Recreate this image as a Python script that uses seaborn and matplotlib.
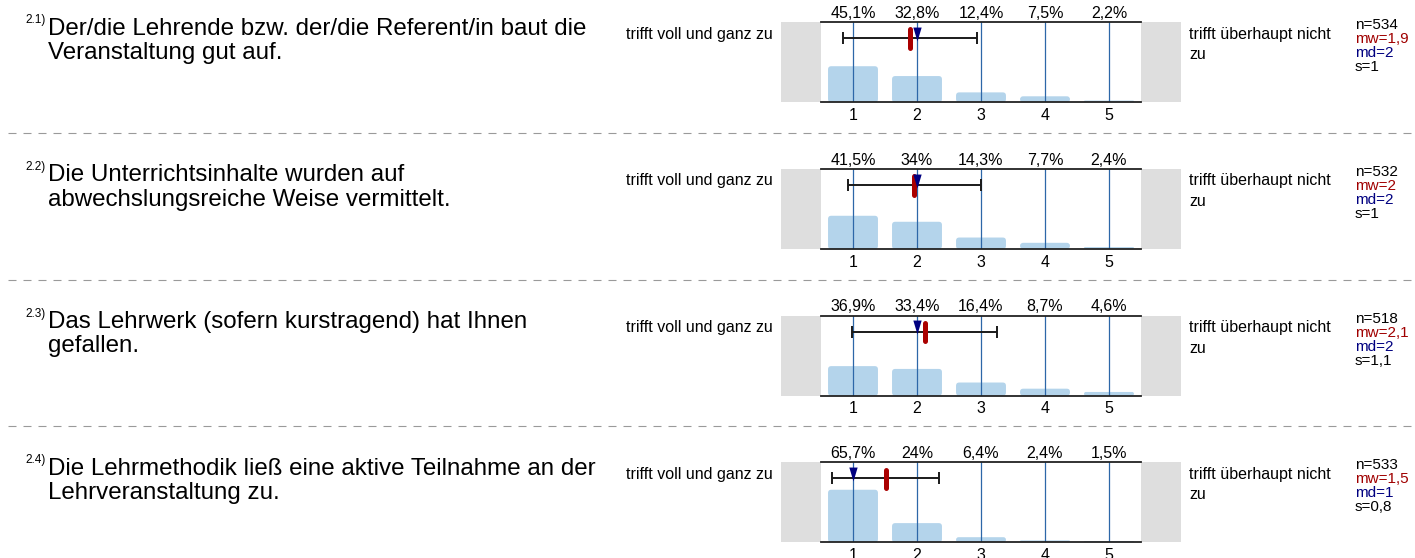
import matplotlib
matplotlib.use("Agg")
import matplotlib.pyplot as plt
import seaborn as sns
from matplotlib.patches import FancyBboxPatch
from matplotlib.lines import Line2D
from matplotlib.path import Path

# data
item_numbers = ["2.1)", "2.2)", "2.3)", "2.4)"]
questions = [
    "Der/die Lehrende bzw. der/die Referent/in baut die\nVeranstaltung gut auf.",
    "Die Unterrichtsinhalte wurden auf\nabwechslungsreiche Weise vermittelt.",
    "Das Lehrwerk (sofern kurstragend) hat Ihnen\ngefallen.",
    "Die Lehrmethodik ließ eine aktive Teilnahme an der\nLehrveranstaltung zu.",
]
scale_points = [1, 2, 3, 4, 5]
pct_2_1 = [45.1, 32.8, 12.4, 7.5, 2.2]
pct_2_2 = [41.5, 34.0, 14.3, 7.7, 2.4]
pct_2_3 = [36.9, 33.4, 16.4, 8.7, 4.6]
pct_2_4 = [65.7, 24.0, 6.4, 2.4, 1.5]
n_answers = [534, 532, 518, 533]
mean_values = [1.89, 1.96, 2.12, 1.51]
median_values = [2, 2, 2, 1]
std_values = [1.04, 1.04, 1.13, 0.84]
left_pole = "trifft voll und ganz zu"
right_pole = "trifft überhaupt nicht\nzu"

percentages = [pct_2_1, pct_2_2, pct_2_3, pct_2_4]

BAR = "#b4d4eb"
VLINE = "#2d67a8"
GRAY = "#dedede"
RED = "#aa0000"
NAVY = "#000080"

W, H = 1415, 558
sns.set_style("white")
plt.rcParams["font.family"] = ["Liberation Sans", "DejaVu Sans"]
plt.rcParams.update({"text.color": "black", "xtick.color": "black",
                     "xtick.labelcolor": "black", "axes.labelcolor": "black"})


def fx(x):
    return x / W


def fy(y):
    return 1 - y / H


def num(v):
    return f"{round(v, 1):g}".replace(".", ",")


# slim downward triangle for the median
median_marker = Path([(-0.6, 1), (0.6, 1), (0, -1), (-0.6, 1)],
                     [Path.MOVETO, Path.LINETO, Path.LINETO, Path.CLOSEPOLY])


def draw_panel(ax, pct, mean, median, sd):
    sns.barplot(x=scale_points, y=pct, native_scale=True, width=0.78,
                color=BAR, saturation=1, ax=ax)
    # swap the plain bars for slightly rounded ones
    for bar in list(ax.patches):
        x0, w, h = bar.get_x(), bar.get_width(), bar.get_height()
        bar.remove()
        r = min(0.05, h / 80 / 2)
        ax.add_patch(FancyBboxPatch((x0, 0), w, h,
                                    boxstyle=f"round,pad=0,rounding_size={r}",
                                    mutation_aspect=80, fc=BAR, ec="none", zorder=1))
    for x in scale_points:
        ax.axvline(x, color=VLINE, lw=0.9, zorder=2)

    ax.errorbar(mean, 80, xerr=sd, fmt="none", ecolor="#1a1a1a",
                elinewidth=1.4, capsize=4.3, capthick=1.4, zorder=3)
    ax.plot([mean, mean], [68, 91], color=RED, lw=3.6,
            solid_capstyle="round", zorder=4)
    ax.plot([median], [85.5], marker=median_marker, ms=10, color=NAVY,
            mew=0, ls="none", zorder=5)

    # grey end blocks left and right of the scale
    ax.axvspan(0.5 - 0.625, 0.5, color=GRAY, lw=0, clip_on=False, zorder=0)
    ax.axvspan(5.5, 5.5 + 0.625, color=GRAY, lw=0, clip_on=False, zorder=0)

    for x, v in zip(scale_points, pct):
        ax.annotate(num(v) + "%", xy=(x, 100), xytext=(0, 3),
                    textcoords="offset points", ha="center", va="baseline",
                    fontsize=11.5, annotation_clip=False)

    ax.set_xlim(0.5, 5.5)
    ax.set_ylim(0, 100)
    ax.set_yticks([])
    ax.set_xticks(scale_points)
    ax.set_xticklabels([str(s) for s in scale_points])
    ax.tick_params(axis="x", length=0, pad=4, labelsize=11.5)
    ax.set_xlabel("")
    ax.set_ylabel("")
    for side in ["left", "right"]:
        ax.spines[side].set_visible(False)
    for side in ["top", "bottom"]:
        ax.spines[side].set_color("#222222")
        ax.spines[side].set_linewidth(1.3)


fig = plt.figure(figsize=(W / 100, H / 100), dpi=100)

panel_step = 146.67
for i in range(4):
    top = 22.3 + panel_step * i
    ax = fig.add_axes([fx(821), fy(top + 80), 320 / W, 80 / H])
    draw_panel(ax, percentages[i], mean_values[i], median_values[i], std_values[i])

    fig.text(fx(25), fy(top - 2), item_numbers[i], fontsize=8.5, va="center", ha="left")
    fig.text(fx(48), fy(top - 4.5), questions[i], fontsize=17.4, va="top", ha="left",
             linespacing=1.13)
    fig.text(fx(773), fy(top + 12), left_pole, fontsize=11.5, va="center", ha="right")
    fig.text(fx(1189), fy(top + 4.5), right_pole, fontsize=11.5, va="top", ha="left",
             linespacing=1.45)

    stats = [(f"n={n_answers[i]}", "black"),
             (f"mw={num(mean_values[i])}", "#a00000"),
             (f"md={num(median_values[i])}", NAVY),
             (f"s={num(std_values[i])}", "black")]
    for k, (txt, col) in enumerate(stats):
        fig.text(fx(1355), fy(top + 3 + 14 * k), txt, fontsize=11, color=col,
                 va="center", ha="left")

    if i > 0:
        y = fy(top - 36)
        fig.add_artist(Line2D([fx(8), fx(1412)], [y, y], transform=fig.transFigure,
                              color="#9a9a9a", lw=0.8, dashes=(7.2, 6.3)))

fig.savefig("out.png", dpi=100)
